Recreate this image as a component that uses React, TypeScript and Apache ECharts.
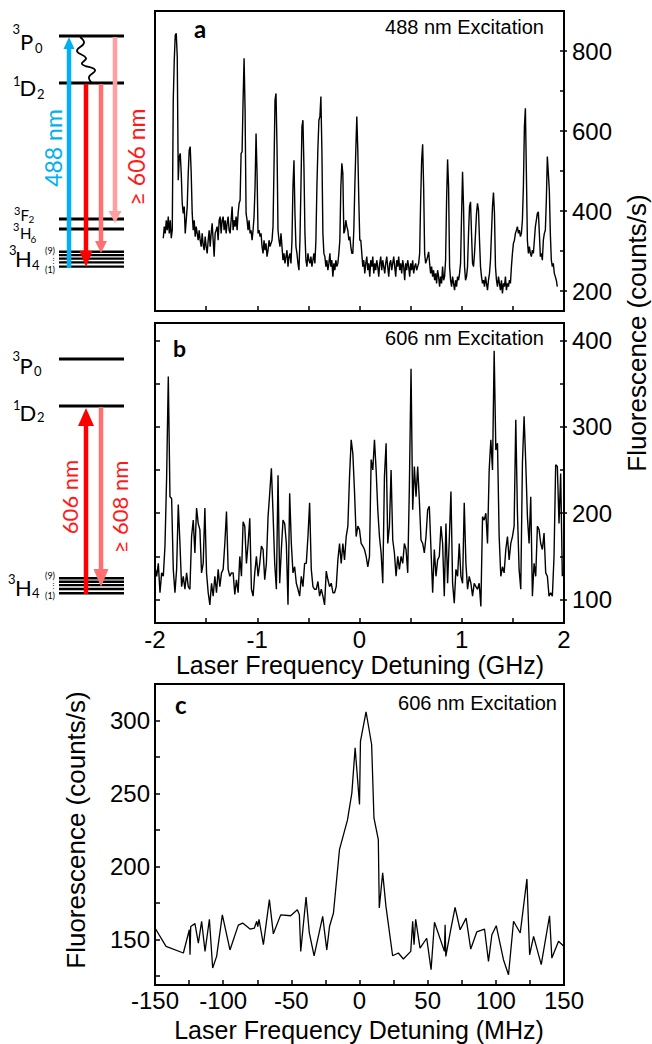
import React, { useEffect, useRef } from "react";
import * as echarts from "echarts";

// ---------- Panel a: 488 nm excitation (uniformly sampled, GHz) ----------
const A_START = -1.919;
const A_STEP = 0.009756;
const aCounts = [
  332, 361, 344, 377, 352, 386, 344, 377, 332, 352,
  677, 777, 840, 844, 786, 477, 536, 544, 494, 419,
  394, 411, 344, 377, 411, 494, 552, 561, 494, 394,
  352, 377, 336, 361, 344, 327, 352, 327, 311, 344,
  315, 302, 336, 311, 294, 327, 352, 311, 344, 369,
  327, 286, 344, 352, 361, 327, 377, 386, 344, 377,
  386, 352, 377, 344, 369, 386, 352, 344, 377, 411,
  352, 377, 361, 386, 352, 394, 419, 427, 544, 548,
  677, 782, 652, 394, 377, 352, 377, 344, 352, 327,
  352, 386, 461, 594, 494, 344, 352, 336, 344, 311,
  294, 327, 302, 319, 286, 302, 327, 311, 319, 327,
  361, 511, 677, 694, 561, 352, 327, 311, 344, 311,
  277, 294, 269, 286, 302, 261, 286, 294, 269, 327,
  461, 527, 394, 311, 294, 269, 252, 327, 461, 611,
  627, 511, 344, 277, 261, 294, 277, 269, 286, 261,
  277, 294, 269, 327, 461, 557, 627, 636, 686, 552,
  344, 294, 286, 261, 277, 252, 269, 294, 261, 277,
  236, 269, 252, 277, 261, 269, 294, 327, 461, 519,
  494, 344, 352, 377, 361, 352, 327, 336, 311, 294,
  294, 352, 461, 552, 636, 552, 427, 327,
  327, 294, 261, 277, 244, 269, 286, 252, 269, 236,
  277, 261, 286, 244, 269, 252, 277, 261, 236, 269,
  286, 252, 277, 261, 244, 269, 286, 261, 236, 269,
  277, 252, 269, 286, 261, 236, 277, 261, 286, 252,
  269, 244, 277, 261, 227, 269, 252, 277, 261, 236,
  269, 252, 277, 244, 261, 269, 252, 261, 269, 294,
  427, 527, 567, 461, 294, 269, 277, 286, 298, 269,
  244, 261, 236, 252, 227, 244, 219, 252, 236, 211,
  236, 219, 261, 227, 236, 277, 427, 529, 461, 261,
  227, 211, 236, 219, 202, 227, 211, 236, 227, 244,
  269, 386, 498, 411, 261, 227, 236, 261, 344, 411,
  423, 344, 269, 261, 294, 344, 394, 419, 402, 327,
  261, 236, 219, 227, 211, 236, 219, 202, 227, 244,
  277, 344, 411, 446, 394, 261, 227, 211, 236, 219,
  202, 227, 194, 219, 211, 236, 202, 219, 211, 227,
  219, 261, 294, 319, 327, 344, 352, 361, 344, 352,
  336, 344, 377, 461, 611, 657, 494, 327, 294, 311,
  294, 286, 302, 294, 327, 361, 377, 394, 398, 344,
  286, 294, 277, 327, 344, 352, 427, 536, 494, 452,
  344, 277, 261, 269, 244, 236, 227, 211,
];

// ---------- Panel b: 606 nm excitation (uniformly sampled, GHz) ----------
const B_START = -2.0;
const B_STEP = 0.01626;
const bCounts = [
  138, 127, 142, 108, 131, 127, 162, 242, 358, 219,
  217, 135, 108, 135, 210, 165, 115, 127, 112, 131,
  115, 112, 173, 192, 154, 206, 188, 181, 131, 142,
  206, 131, 108, 94, 119, 104, 127, 108, 135, 115,
  131, 135, 165, 202, 135, 127, 131, 131, 106, 123,
  108, 150, 127, 190, 185, 142, 165, 194, 112, 104,
  131, 150, 127, 142, 162, 158, 123, 142, 196, 223,
  252, 200, 142, 112, 244, 119, 158, 192, 188, 165,
  94, 223, 165, 131, 138, 119, 112, 104, 127, 115,
  142, 142, 173, 212, 135, 115, 112, 112, 121, 104,
  112, 104, 94, 133, 123, 115, 119, 108, 108, 115,
  146, 165, 142, 165, 146, 173, 185, 242, 285, 269,
  225, 173, 185,
  181, 165, 162, 158, 150, 138, 150, 262, 250, 285,
  250, 204, 173, 154, 119, 242, 281, 165, 185, 250,
  169, 154, 127, 150, 135, 150, 142, 165, 158, 131,
  231, 367, 204, 254, 219, 254, 215, 169, 165, 154,
  173, 204, 208, 158, 108, 158, 127, 146, 150, 185,
  165, 104, 188, 119, 169, 225, 119, 96, 135, 127,
  165, 127, 119, 212, 142, 112, 127, 119, 104, 119,
  115, 112, 119, 92, 196, 192, 200, 165, 250, 285,
  250, 388, 273, 281, 173, 127, 138, 131, 158, 173,
  146, 165, 173, 185, 308, 200, 135, 112, 258, 312,
  258, 196, 165, 219, 104, 142, 127, 185, 181, 165,
  158, 177, 131, 127, 104, 108, 104, 150, 256, 254,
  188, 246, 127,
];

// ---------- Panel c: 606 nm excitation, MHz scan ----------
const cMHz = [
  -150, -141.9, -129.2, -124.8, -124.3, -123.8, -120.7, -118.2, -115.8, -113.3,
  -110.1, -107.7, -104.8, -100.6, -95, -88.9, -85.7, -80.3, -77.1, -75.4,
  -74.6, -73.7, -70.5, -66.1, -63.2, -57.8, -50.5, -45.6, -44.1, -43.1,
  -39.2, -36.8, -33.3, -27, -24, -22, -19.1, -14.7, -8.8, -5.6,
  -3.2, 0, 0.7, 4.8, 8.9, 10.6, 13.8, 14.5, 17, 19.4,
  24.3, 28.5, 32.2, 37.6, 39, 40, 41.2, 44.4, 49.3, 52.5,
  55, 62.3, 62.8, 63.3, 66.9, 70.1, 73.8, 78.2, 81.6, 86,
  91.7, 94.6, 97.1, 100.3, 105.6, 109.3, 113, 117.9, 122.8, 124.8,
  127.7, 133.3, 139.4, 141.1, 146, 150,
];
const cCounts = [
  158, 145.4, 140.9, 156.8, 139.7, 159, 161, 147.7, 162.6, 142,
  164, 130.6, 138.6, 167, 143, 160, 161.4, 157.3, 158, 162.6,
  159, 164, 146.6, 177.4, 154, 167, 166.4, 170.5, 167, 142,
  179.2, 154.6, 139, 166, 143, 159, 168.3, 211.6, 232, 250.5,
  281.3, 242.5, 285.8, 306, 283.6, 233.3, 218.5, 171.7, 195.7, 172.8,
  139, 140.9, 136.8, 142, 162.6, 146.6, 164, 144.3, 151, 129.5,
  161.9, 142, 160.3, 138.6, 156.8, 172.1, 156.8, 164.8, 143.6, 155.3,
  157.3, 135.2, 153.4, 159.6, 136.3, 126, 162.6, 154.6, 191.6, 139.7,
  152.3, 132.9, 166.4, 137.4, 148.9, 145.4,
];

// ---------- Axis tick values ----------
const ghzLabels = [-2, -1, 0, 1, 2];
const ghzTicks = [-1.5, -1, -0.5, 0, 0.5, 1, 1.5];
const mhzLabels = [-150, -100, -50, 0, 50, 100, 150];
const mhzTicks = [-125, -100, -75, -50, -25, 0, 25, 50, 75, 100, 125];
const aLabels = [200, 400, 600, 800];
const aTicks = [200, 300, 400, 500, 600, 700, 800];
const bLabels = [100, 200, 300, 400];
const bTicks = [100, 150, 200, 250, 300, 350, 400];
const cLabels = [150, 200, 250, 300];
const cTicks = [125, 150, 175, 200, 225, 250, 275, 300];

const NUM_FONT = "'Liberation Sans', Arial, Helvetica, sans-serif";
const DIA_FONT = "Lato, 'Open Sans', sans-serif";

function txt(
  text: string,
  x: number,
  y: number,
  size: number,
  opt: { align?: string; color?: string; family?: string; weight?: string; rot?: number; lh?: number } = {}
) {
  const align = opt.align || "left";
  return {
    type: "text",
    x,
    y,
    rotation: opt.rot || 0,
    silent: true,
    style: {
      text,
      x: 0,
      y: 0,
      fill: opt.color || "#000",
      fontSize: size,
      fontFamily: opt.family || DIA_FONT,
      fontWeight: opt.weight || "normal",
      lineHeight: opt.lh || Math.round(size * 0.9),
      textAlign: align,
      align,
      textVerticalAlign: "middle",
      verticalAlign: "middle",
    },
  };
}

function hline(x1: number, x2: number, y: number, w: number) {
  return { type: "line", silent: true, shape: { x1, y1: y, x2, y2: y }, style: { stroke: "#000", lineWidth: w } };
}

function arrow(x: number, yFrom: number, yBase: number, yTip: number, half: number, color: string, w: number) {
  return [
    { type: "line", silent: true, shape: { x1: x, y1: yFrom, x2: x, y2: yBase }, style: { stroke: color, lineWidth: w } },
    {
      type: "polygon",
      silent: true,
      shape: { points: [[x - half, yBase], [x + half, yBase], [x, yTip]] },
      style: { fill: color },
    },
  ];
}

const BLUE = "#00b0f0";
const RED = "#ff0000";
const PINK = "#ff7070";
const LPINK = "#ff9f9f";

function buildGraphic() {
  const g: any[] = [];
  // ---- top diagram levels ----
  g.push(hline(59, 124, 36, 3));
  g.push(hline(59, 124, 83, 3));
  g.push(hline(59, 124, 219, 3));
  g.push(hline(59, 124, 229, 3));
  [251.7, 255.1, 258.6, 262.4, 266.6].forEach((y) => g.push(hline(59, 124, y, 2.4)));
  // labels
  g.push(txt("3", 12.5, 29, 13));
  g.push(txt("P", 20, 41, 22));
  g.push(txt("0", 35, 47.5, 13));
  g.push(txt("1", 13, 81, 13));
  g.push(txt("D", 19.5, 87.5, 22));
  g.push(txt("2", 37, 93.5, 13));
  g.push(txt("3", 14, 210.5, 11));
  g.push(txt("F", 20.5, 214.5, 15));
  g.push(txt("2", 28.5, 219, 10));
  g.push(txt("3", 13, 226, 11));
  g.push(txt("H", 20, 232.5, 15));
  g.push(txt("6", 30.5, 238.5, 10));
  g.push(txt("3", 9, 249.5, 13));
  g.push(txt("H", 15, 258.5, 22));
  g.push(txt("4", 32, 265, 13));
  g.push(txt("(9)", 45, 250.5, 9));
  g.push(txt("⋮", 50, 259.5, 7));
  g.push(txt("(1)", 45, 269.5, 9));
  // arrows
  g.push(...arrow(69, 268, 49, 37, 5.5, BLUE, 4.5));
  g.push(...arrow(86, 84, 251, 267, 6.5, RED, 4.5));
  g.push(...arrow(101, 84, 241, 253, 6, PINK, 4.5));
  g.push(...arrow(115, 37, 211, 223, 6.5, LPINK, 4.5));
  // wavy non-radiative decay
  g.push({
    type: "polyline",
    silent: true,
    shape: {
      points: [[80, 37], [84, 43], [77, 51], [86, 58], [82, 64], [95, 70], [89, 77], [92, 83]],
      smooth: 0.45,
    },
    style: { stroke: "#000", lineWidth: 1.8, fill: null },
  });
  g.push(txt("488 nm", 52.5, 148, 23, { align: "center", color: BLUE, rot: Math.PI / 2 }));
  g.push(txt("≥ 606 nm", 136, 157, 23, { align: "center", color: "#ff1a1a", rot: Math.PI / 2 }));

  // ---- bottom diagram ----
  g.push(hline(59, 124, 359, 3));
  g.push(hline(59, 124, 406, 3));
  [578.3, 581.7, 585.1, 589, 593.2].forEach((y) => g.push(hline(59, 124, y, 2.4)));
  g.push(txt("3", 12.5, 355.5, 13));
  g.push(txt("P", 19.5, 365, 22));
  g.push(txt("0", 34, 371, 13));
  g.push(txt("1", 13, 405, 13));
  g.push(txt("D", 19.5, 412.5, 22));
  g.push(txt("2", 37, 417, 13));
  g.push(txt("3", 8, 578.5, 13));
  g.push(txt("H", 15, 587.5, 22));
  g.push(txt("4", 32, 593, 13));
  g.push(txt("(9)", 45, 575, 9));
  g.push(txt("⋮", 50, 584.5, 7));
  g.push(txt("(1)", 45, 595, 9));
  g.push(...arrow(86, 594, 426, 408, 8, RED, 4.5));
  g.push(...arrow(101, 407, 569, 587, 7.5, PINK, 4.5));
  g.push(txt("606 nm", 69, 497, 22, { align: "center", color: "#ff1a1a", rot: Math.PI / 2 }));
  g.push(txt("≥ 608 nm", 119, 507, 22, { align: "center", color: "#ff1a1a", rot: Math.PI / 2 }));

  // ---- panel letters / annotations ----
  g.push(txt("a", 194, 28.5, 24, { weight: "bold" }));
  g.push(txt("b", 173, 347.5, 23, { weight: "bold" }));
  g.push(txt("c", 175, 704, 24, { weight: "bold" }));
  g.push(txt("488 nm Excitation", 544, 27, 20, { align: "right", family: NUM_FONT }));
  g.push(txt("606 nm Excitation", 544, 337.5, 20, { align: "right", family: NUM_FONT }));
  g.push(txt("606 nm Excitation", 557, 702.5, 20, { align: "right", family: NUM_FONT }));

  // ---- axis titles ----
  g.push(txt("Fluorescence (counts/s)", 637, 333, 26, { align: "center", family: NUM_FONT, rot: Math.PI / 2, lh: 20 }));
  g.push(txt("Fluorescence (counts/s)", 76, 830, 26, { align: "center", family: NUM_FONT, rot: Math.PI / 2, lh: 20 }));
  g.push(txt("Laser Frequency Detuning (GHz)", 360, 664.5, 25, { align: "center", family: NUM_FONT, lh: 20 }));
  g.push(txt("Laser Frequency Detuning (MHz)", 359, 1029.5, 25, { align: "center", family: NUM_FONT, lh: 20 }));
  return g;
}

const tickStyle = { color: "#000", width: 1.5 };
const labelStyle = { color: "#000", fontSize: 24, fontFamily: NUM_FONT, lineHeight: 19 };
const noLine = { show: false, onZero: false };

function App() {
  const ref = useRef<HTMLDivElement>(null);
  useEffect(() => {
    if (!ref.current) return;
    const chart = echarts.init(ref.current, undefined, { renderer: "svg" });
    const aData = aCounts.map((v, i) => [A_START + i * A_STEP, v]);
    const bData = bCounts.map((v, i) => [B_START + i * B_STEP, v]);
    const cData = cMHz.map((m, i) => [m, cCounts[i]]);
    const gridBase = { show: true, borderColor: "#000", borderWidth: 2, backgroundColor: "transparent", containLabel: false };
    const noSplit = { show: false };
    const option: any = {
      animation: false,
      backgroundColor: "#fff",
      grid: [
        { ...gridBase, left: 155, top: 11, width: 409, height: 300 },
        { ...gridBase, left: 155, top: 323, width: 409, height: 300 },
        { ...gridBase, left: 155, top: 684, width: 409, height: 301 },
      ],
      xAxis: [
        {
          gridIndex: 0, type: "value", min: -2, max: 2, axisLine: noLine, splitLine: noSplit,
          axisLabel: { show: false },
          axisTick: { show: true, inside: true, length: 5, lineStyle: tickStyle, customValues: ghzTicks },
        },
        {
          gridIndex: 1, type: "value", min: -2, max: 2, axisLine: noLine, splitLine: noSplit,
          axisLabel: { ...labelStyle, margin: 7, customValues: ghzLabels },
          axisTick: { show: true, inside: true, length: 5, lineStyle: tickStyle, customValues: ghzTicks },
        },
        {
          gridIndex: 2, type: "value", min: -150, max: 150, axisLine: noLine, splitLine: noSplit,
          axisLabel: { ...labelStyle, margin: 6, customValues: mhzLabels },
          axisTick: { show: true, inside: true, length: 5, lineStyle: tickStyle, customValues: mhzTicks },
        },
      ],
      yAxis: [
        {
          gridIndex: 0, type: "value", position: "right", min: 150, max: 900, axisLine: noLine, splitLine: noSplit,
          axisLabel: { ...labelStyle, margin: 8, customValues: aLabels },
          axisTick: { show: true, inside: true, length: 4, lineStyle: tickStyle, customValues: aTicks },
        },
        {
          gridIndex: 0, type: "value", position: "right", min: 150, max: 900, axisLine: noLine, splitLine: noSplit,
          axisLabel: { show: false },
          axisTick: { show: true, inside: false, length: 3, lineStyle: tickStyle, customValues: aLabels },
        },
        {
          gridIndex: 1, type: "value", position: "right", min: 73, max: 420, axisLine: noLine, splitLine: noSplit,
          axisLabel: { ...labelStyle, margin: 8, customValues: bLabels },
          axisTick: { show: true, inside: true, length: 4, lineStyle: tickStyle, customValues: bTicks },
        },
        {
          gridIndex: 1, type: "value", position: "right", min: 73, max: 420, axisLine: noLine, splitLine: noSplit,
          axisLabel: { show: false },
          axisTick: { show: true, inside: false, length: 3, lineStyle: tickStyle, customValues: bLabels },
        },
        {
          gridIndex: 1, type: "value", position: "left", min: 73, max: 420, axisLine: noLine, splitLine: noSplit,
          axisLabel: { show: false },
          axisTick: { show: true, inside: true, length: 5, lineStyle: tickStyle, customValues: bTicks },
        },
        {
          gridIndex: 2, type: "value", position: "left", min: 119, max: 325, axisLine: noLine, splitLine: noSplit,
          axisLabel: { ...labelStyle, margin: 5, customValues: cLabels },
          axisTick: { show: true, inside: true, length: 5, lineStyle: tickStyle, customValues: cTicks },
        },
      ],
      series: [
        {
          type: "line", xAxisIndex: 0, yAxisIndex: 0, data: aData, showSymbol: false, clip: true,
          lineStyle: { color: "#000", width: 1.4 }, silent: true,
        },
        {
          type: "line", xAxisIndex: 1, yAxisIndex: 2, data: bData, showSymbol: false, clip: true,
          lineStyle: { color: "#000", width: 1.4 }, silent: true,
        },
        {
          type: "line", xAxisIndex: 2, yAxisIndex: 5, data: cData, showSymbol: false, clip: true,
          lineStyle: { color: "#000", width: 1.3 }, silent: true,
        },
      ],
      graphic: { elements: buildGraphic() },
    };
    chart.setOption(option);
    return () => chart.dispose();
  }, []);
  return (
    <div
      ref={ref}
      style={{ position: "fixed", left: 0, top: 0, width: 652, height: 1044, background: "#fff" }}
    />
  );
}

export default App;
